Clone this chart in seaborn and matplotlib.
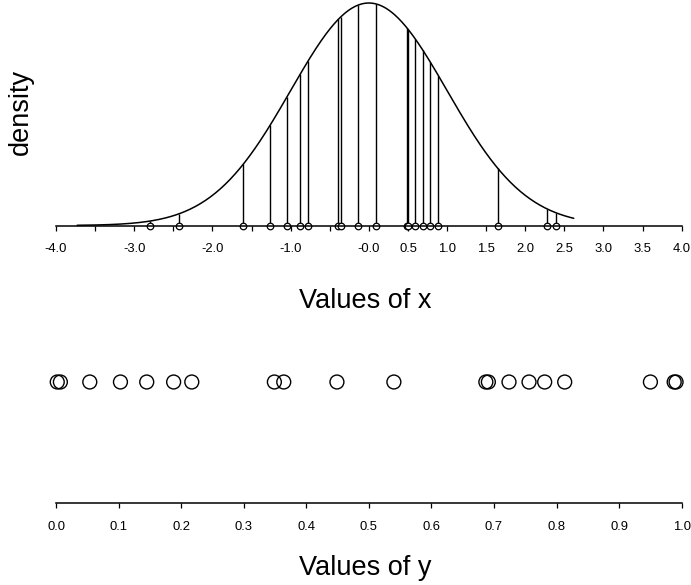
import numpy as np
import pandas as pd
import matplotlib
matplotlib.use("Agg")
import matplotlib.pyplot as plt
import seaborn as sns

# ---- data ----
x_values = [-2.798, -2.423, -1.605, -1.263, -1.050, -0.880, -0.774, -0.390, -0.355,
            -0.134, 0.092, 0.485, 0.505, 0.591, 0.689, 0.783, 0.889, 1.648, 2.275, 2.390]
y_values = [0.002, 0.007, 0.054, 0.103, 0.145, 0.188, 0.217, 0.349, 0.364,
            0.449, 0.540, 0.687, 0.691, 0.724, 0.756, 0.781, 0.813, 0.950, 0.988, 0.991]
x_ticks = [-4.0, -3.5, -3.0, -2.5, -2.0, -1.5, -1.0, -0.5, 0.0,
           0.5, 1.0, 1.5, 2.0, 2.5, 3.0, 3.5, 4.0]
x_tick_labels = ["-4.0", "", "-3.0", "", "-2.0", "", "-1.0", "", "-0.0",
                 "0.5", "1.0", "1.5", "2.0", "2.5", "3.0", "3.5", "4.0"]
y_ticks = [0.0, 0.1, 0.2, 0.3, 0.4, 0.5, 0.6, 0.7, 0.8, 0.9, 1.0]
y_tick_labels = ["0.0", "0.1", "0.2", "0.3", "0.4", "0.5", "0.6", "0.7", "0.8", "0.9", "1.0"]
curve_range = [-3.73, 2.62]


def normal_pdf(v):
    v = np.asarray(v, dtype=float)
    return np.exp(-v ** 2 / 2.0) / np.sqrt(2.0 * np.pi)


curve_x = np.linspace(curve_range[0], curve_range[1], 400)
curve_df = pd.DataFrame({"x": curve_x, "density": normal_pdf(curve_x)})
pts_df = pd.DataFrame({"x": x_values, "base": np.zeros(len(x_values)),
                       "y": y_values, "row": np.ones(len(y_values))})

sns.set_style("white")
plt.rcParams["font.family"] = ["Liberation Sans", "DejaVu Sans"]
plt.rcParams["text.color"] = "black"
plt.rcParams["axes.labelcolor"] = "black"
plt.rcParams["xtick.color"] = "black"
plt.rcParams["xtick.labelcolor"] = "black"

W, H = 691, 585
fig = plt.figure(figsize=(W / 100, H / 100), dpi=100)

# ---------------- top panel ----------------
left_px, right_px = 56.0, 681.7
ax1 = fig.add_axes([left_px / W, 1 - 225.5 / H, (right_px - left_px) / W, 222.5 / H])
ax1.set_facecolor("none")
sns.lineplot(data=curve_df, x="x", y="density", color="black", linewidth=1.1, ax=ax1)
for ln in ax1.lines:
    ln.set_clip_on(False)
ax1.vlines(pts_df["x"], 0, normal_pdf(pts_df["x"]), color="black", linewidth=1.0, zorder=3)
sns.scatterplot(data=pts_df, x="x", y="base", marker="o", s=22, facecolor="white",
                edgecolor="black", linewidth=0.9, zorder=4, clip_on=False, ax=ax1)
ax1.set_xlim(-4, 4)
ax1.set_ylim(0, float(normal_pdf(0.0)))
ax1.set_xticks(x_ticks)
ax1.set_xticklabels(x_tick_labels)
ax1.set_yticks([])
for s in ["left", "top", "right"]:
    ax1.spines[s].set_visible(False)
ax1.spines["bottom"].set_linewidth(1.1)
ax1.spines["bottom"].set_color("black")
ax1.spines["bottom"].set_zorder(5)
ax1.tick_params(axis="x", direction="out", length=3.6, width=0.9, color="black",
                labelcolor="black", labelsize=9.4, pad=9.0, bottom=True)
ax1.set_xlabel("Values of x", fontsize=19.5, va="top", color="black")
ax1.xaxis.set_label_coords(0.494, -0.282)
ax1.set_ylabel("density", fontsize=19.5, color="black")
ax1.yaxis.set_label_coords(-0.035, 0.51)

# ---------------- bottom panel ----------------
ax2 = fig.add_axes([left_px / W, 1 - 503.3 / H, (right_px - left_px) / W, 242.6 / H])
ax2.set_facecolor("none")
sns.scatterplot(data=pts_df, x="y", y="row", marker="o", s=100, facecolor="none",
                edgecolor="black", linewidth=1.0, clip_on=False, ax=ax2)
ax2.set_xlim(0, 1)
ax2.set_ylim(0, 2)
ax2.set_xticks(y_ticks)
ax2.set_xticklabels(y_tick_labels)
ax2.set_yticks([])
ax2.set_ylabel("")
for s in ["left", "top", "right"]:
    ax2.spines[s].set_visible(False)
ax2.spines["bottom"].set_linewidth(1.1)
ax2.spines["bottom"].set_color("black")
ax2.tick_params(axis="x", direction="out", length=3.6, width=0.9, color="black",
                labelcolor="black", labelsize=9.4, pad=9.5, bottom=True)
ax2.set_xlabel("Values of y", fontsize=19.5, va="top", color="black")
ax2.xaxis.set_label_coords(0.494, -0.213)

fig.savefig("out.png", dpi=100)
